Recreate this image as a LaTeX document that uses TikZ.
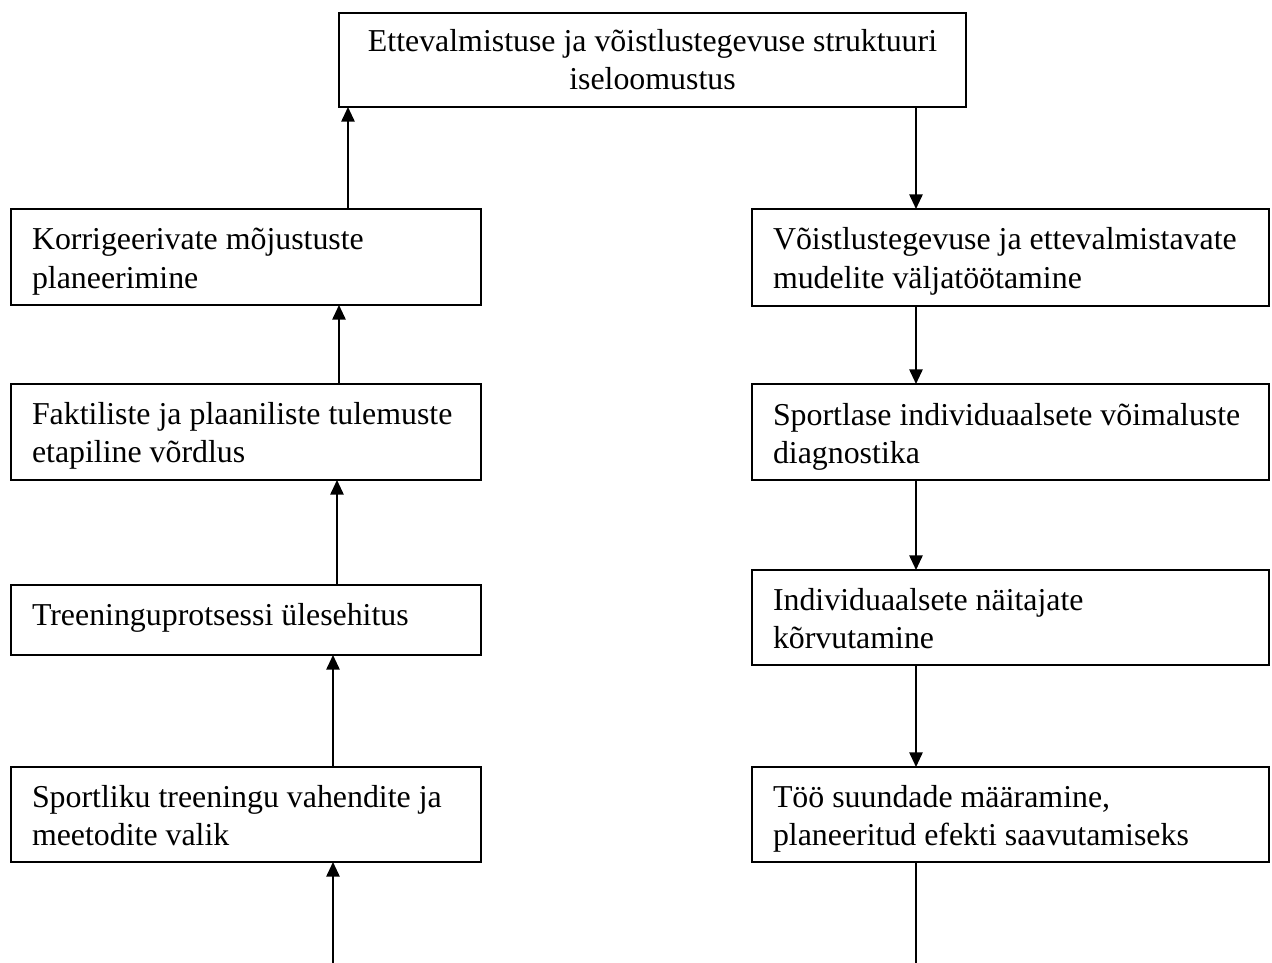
\documentclass[tikz,border=0pt]{standalone}
\usepackage{fontspec}
\setmainfont{Liberation Serif}
\usetikzlibrary{arrows.meta,calc}
\begin{document}
\begin{tikzpicture}[x=0.75pt,y=-0.75pt,
 box/.style={draw, line width=1.3pt, inner sep=0pt, outer sep=0pt, anchor=north west},
 txt/.style={inner sep=0pt, outer sep=0pt, font=\fontsize{23.9pt}{28.5pt}\selectfont},
 arr/.style={line width=1.3pt, -{Triangle[length=11pt,width=10pt]}},
 ln/.style={line width=1.3pt}]
\useasboundingbox (0,0) rectangle (1272,963);

% boxes
\node[box, minimum width=470.25pt, minimum height=70.5pt] (Top) at (339,13) {};
\node[box, minimum width=352.5pt, minimum height=72pt] (L1) at (11,209) {};
\node[box, minimum width=352.5pt, minimum height=72pt] (L2) at (11,384) {};
\node[box, minimum width=352.5pt, minimum height=52.5pt] (L3) at (11,585) {};
\node[box, minimum width=352.5pt, minimum height=71.25pt] (L4) at (11,767) {};
\node[box, minimum width=387.75pt, minimum height=72.75pt] (R1) at (752,209) {};
\node[box, minimum width=387.75pt, minimum height=72pt] (R2) at (752,384) {};
\node[box, minimum width=387.75pt, minimum height=71.25pt] (R3) at (752,570) {};
\node[box, minimum width=387.75pt, minimum height=71.25pt] (R4) at (752,767) {};

% texts
\node[txt, anchor=base] (Topt) at (652.5,52) {\begin{tabular}[t]{@{}c@{}}Ettevalmistuse ja võistlustegevuse struktuuri\\ iseloomustus\end{tabular}};
\node[txt, anchor=base west] (L1t) at (32,250) {\begin{tabular}[t]{@{}l@{}}Korrigeerivate mõjustuste\\ planeerimine\end{tabular}};
\node[txt, anchor=base west] (L2t) at (32,424) {\begin{tabular}[t]{@{}l@{}}Faktiliste ja plaaniliste tulemuste\\ etapiline võrdlus\end{tabular}};
\node[txt, anchor=base west] (L3t) at (32,625) {Treeninguprotsessi ülesehitus};
\node[txt, anchor=base west] (L4t) at (32,807) {\begin{tabular}[t]{@{}l@{}}Sportliku treeningu vahendite ja\\ meetodite valik\end{tabular}};
\node[txt, anchor=base west] (R1t) at (773,250) {\begin{tabular}[t]{@{}l@{}}Võistlustegevuse ja ettevalmistavate\\ mudelite väljatöötamine\end{tabular}};
\node[txt, anchor=base west] (R2t) at (773,425) {\begin{tabular}[t]{@{}l@{}}Sportlase individuaalsete võimaluste\\ diagnostika\end{tabular}};
\node[txt, anchor=base west] (R3t) at (773,610) {\begin{tabular}[t]{@{}l@{}}Individuaalsete näitajate\\ kõrvutamine\end{tabular}};
\node[txt, anchor=base west] (R4t) at (773,807) {\begin{tabular}[t]{@{}l@{}}Töö suundade määramine,\\ planeeritud efekti saavutamiseks\end{tabular}};

% left column connectors (upwards)
\coordinate (cL1) at ($(L1.north west)+(337,0)$);
\draw[arr] (cL1) -- (cL1 |- Top.south);
\coordinate (cL2) at ($(L2.north west)+(328,0)$);
\draw[arr] (cL2) -- (cL2 |- L1.south);
\coordinate (cL3) at ($(L3.north west)+(326,0)$);
\draw[arr] (cL3) -- (cL3 |- L2.south);
\coordinate (cL4) at ($(L4.north west)+(322,0)$);
\draw[arr] (cL4) -- (cL4 |- L3.south);
\coordinate (lb) at (333,963);
\draw[arr] (lb) -- (lb |- L4.south);

% right column connectors (downwards)
\coordinate (cT) at ($(Top.south west)+(577,0)$);
\draw[arr] (cT) -- (cT |- R1.north);
\coordinate (cR1) at ($(R1.south west)+(164,0)$);
\draw[arr] (cR1) -- (cR1 |- R2.north);
\coordinate (cR2) at ($(R2.south west)+(164,0)$);
\draw[arr] (cR2) -- (cR2 |- R3.north);
\coordinate (cR3) at ($(R3.south west)+(164,0)$);
\draw[arr] (cR3) -- (cR3 |- R4.north);
\coordinate (rb) at (916,963);
\draw[ln] (rb |- R4.south) -- (rb);
\end{tikzpicture}
\end{document}
